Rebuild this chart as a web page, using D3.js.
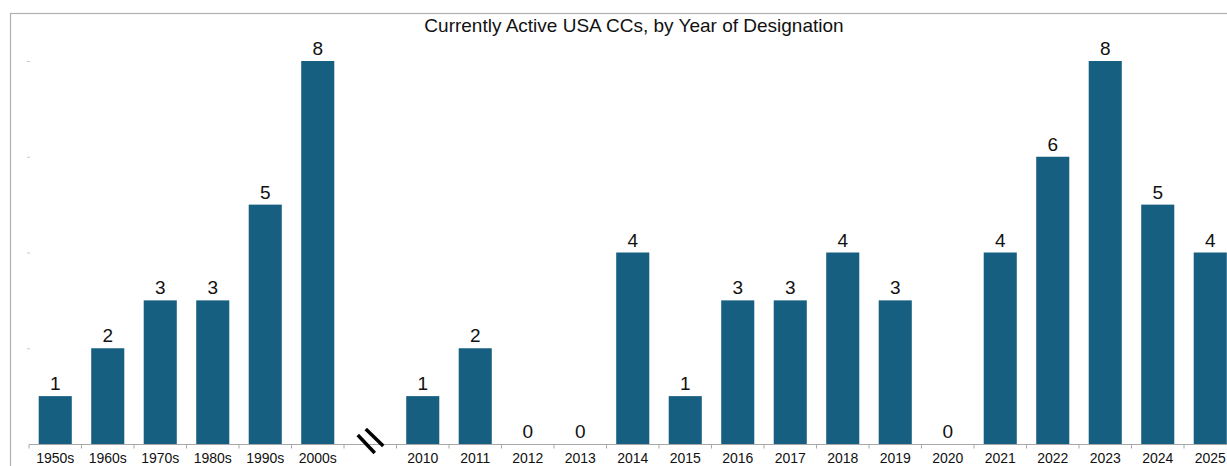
<!DOCTYPE html>
<html>
<head>
<meta charset="utf-8">
<script src="https://d3js.org/d3.v7.min.js"></script>
<style>
  body { margin: 0; background: #fff; }
  svg { display: block; font-family: "Liberation Sans", Arial, Helvetica, sans-serif; }
</style>
</head>
<body>
<div id="chart"></div>
<script>
// categories ("" is the axis break slot)
var categories = ["1950s", "1960s", "1970s", "1980s", "1990s", "2000s", "",
  "2010", "2011", "2012", "2013", "2014", "2015", "2016", "2017", "2018", "2019",
  "2020", "2021", "2022", "2023", "2024", "2025"];
var counts = [1, 2, 3, 3, 5, 8, null,
  1, 2, 0, 0, 4, 1, 3, 3, 4, 3,
  0, 4, 6, 8, 5, 4];
var yTicks = [2, 4, 6, 8];
var title = "Currently Active USA CCs, by Year of Designation";

var width = 1227, height = 466;
var barColor = "#175f80";

var svg = d3.select("#chart").append("svg")
    .attr("width", width)
    .attr("height", height);

// outer frame (runs off the right and bottom edges)
svg.append("rect")
    .attr("x", 10.5).attr("y", 13.5)
    .attr("width", width + 20).attr("height", height + 20)
    .attr("fill", "none")
    .attr("stroke", "#b0b0b0")
    .attr("stroke-width", 1.2);

// title
svg.append("text")
    .attr("x", 634)
    .attr("y", 32)
    .attr("text-anchor", "middle")
    .style("font-size", "19px")
    .style("fill", "#111")
    .text(title);

var data = categories.map(function(c, i) { return {cat: c, v: counts[i]}; });

var step = 52.5;
var x = d3.scaleBand()
    .domain(categories)
    .range([29, 29 + categories.length * step])
    .paddingInner(0.37)
    .paddingOuter(0.185);

var y = d3.scaleLinear()
    .domain([0, 8])
    .range([444, 61]);

// y ticks (no labels)
var yAxis = svg.append("g")
    .attr("transform", "translate(30,0)")
    .call(d3.axisLeft(y).tickValues(yTicks).tickSize(3).tickFormat(""));
yAxis.select(".domain").remove();
yAxis.selectAll("line").attr("stroke", "#c8c8c8");

// bars
svg.append("g")
  .selectAll("rect")
  .data(data.filter(function(d) { return d.v !== null; }))
  .enter()
  .append("rect")
    .attr("x", function(d) { return x(d.cat); })
    .attr("y", function(d) { return y(d.v); })
    .attr("width", x.bandwidth())
    .attr("height", function(d) { return y(0) - y(d.v); })
    .attr("fill", barColor);

// value labels
svg.append("g")
  .selectAll("text")
  .data(data.filter(function(d) { return d.v !== null; }))
  .enter()
  .append("text")
    .attr("x", function(d) { return x(d.cat) + x.bandwidth() / 2; })
    .attr("y", function(d) { return y(d.v) - 6; })
    .attr("text-anchor", "middle")
    .style("font-size", "19px")
    .style("fill", "#111")
    .text(function(d) { return d.v; });

// x axis: line, boundary ticks, labels
var axisG = svg.append("g");
axisG.append("line")
    .attr("x1", x.range()[0]).attr("x2", x.range()[1])
    .attr("y1", y(0) + 0.5).attr("y2", y(0) + 0.5)
    .attr("stroke", "#a8a8a8")
    .attr("stroke-width", 1.2);
axisG.selectAll(".tick")
  .data(categories.concat(["end"]))
  .enter()
  .append("line")
    .attr("x1", function(d, i) { return x.range()[0] + i * x.step(); })
    .attr("x2", function(d, i) { return x.range()[0] + i * x.step(); })
    .attr("y1", y(0) + 0.5)
    .attr("y2", y(0) + 4.5)
    .attr("stroke", "#a8a8a8");

var xAxis = svg.append("g")
    .attr("transform", "translate(0," + y(0) + ")")
    .call(d3.axisBottom(x).tickSize(0));
xAxis.select(".domain").remove();
xAxis.selectAll("text")
    .attr("dy", "0")
    .attr("y", 18.5)
    .style("font-size", "14px")
    .style("font-family", "'Liberation Sans', Arial, sans-serif")
    .style("fill", "#111");

// axis break marker
var cx = x("") + x.bandwidth() / 2, y0 = y(0);
var breakLines = [
  [cx - 12.5, y0 - 9, cx + 4.5, y0 + 9],
  [cx - 4.5, y0 - 15, cx + 13, y0 + 2]
];
svg.append("g")
  .selectAll("line")
  .data(breakLines)
  .enter()
  .append("line")
    .attr("x1", function(d) { return d[0]; })
    .attr("y1", function(d) { return d[1]; })
    .attr("x2", function(d) { return d[2]; })
    .attr("y2", function(d) { return d[3]; })
    .attr("stroke", "#000")
    .attr("stroke-width", 3.5);
</script>
</body>
</html>
